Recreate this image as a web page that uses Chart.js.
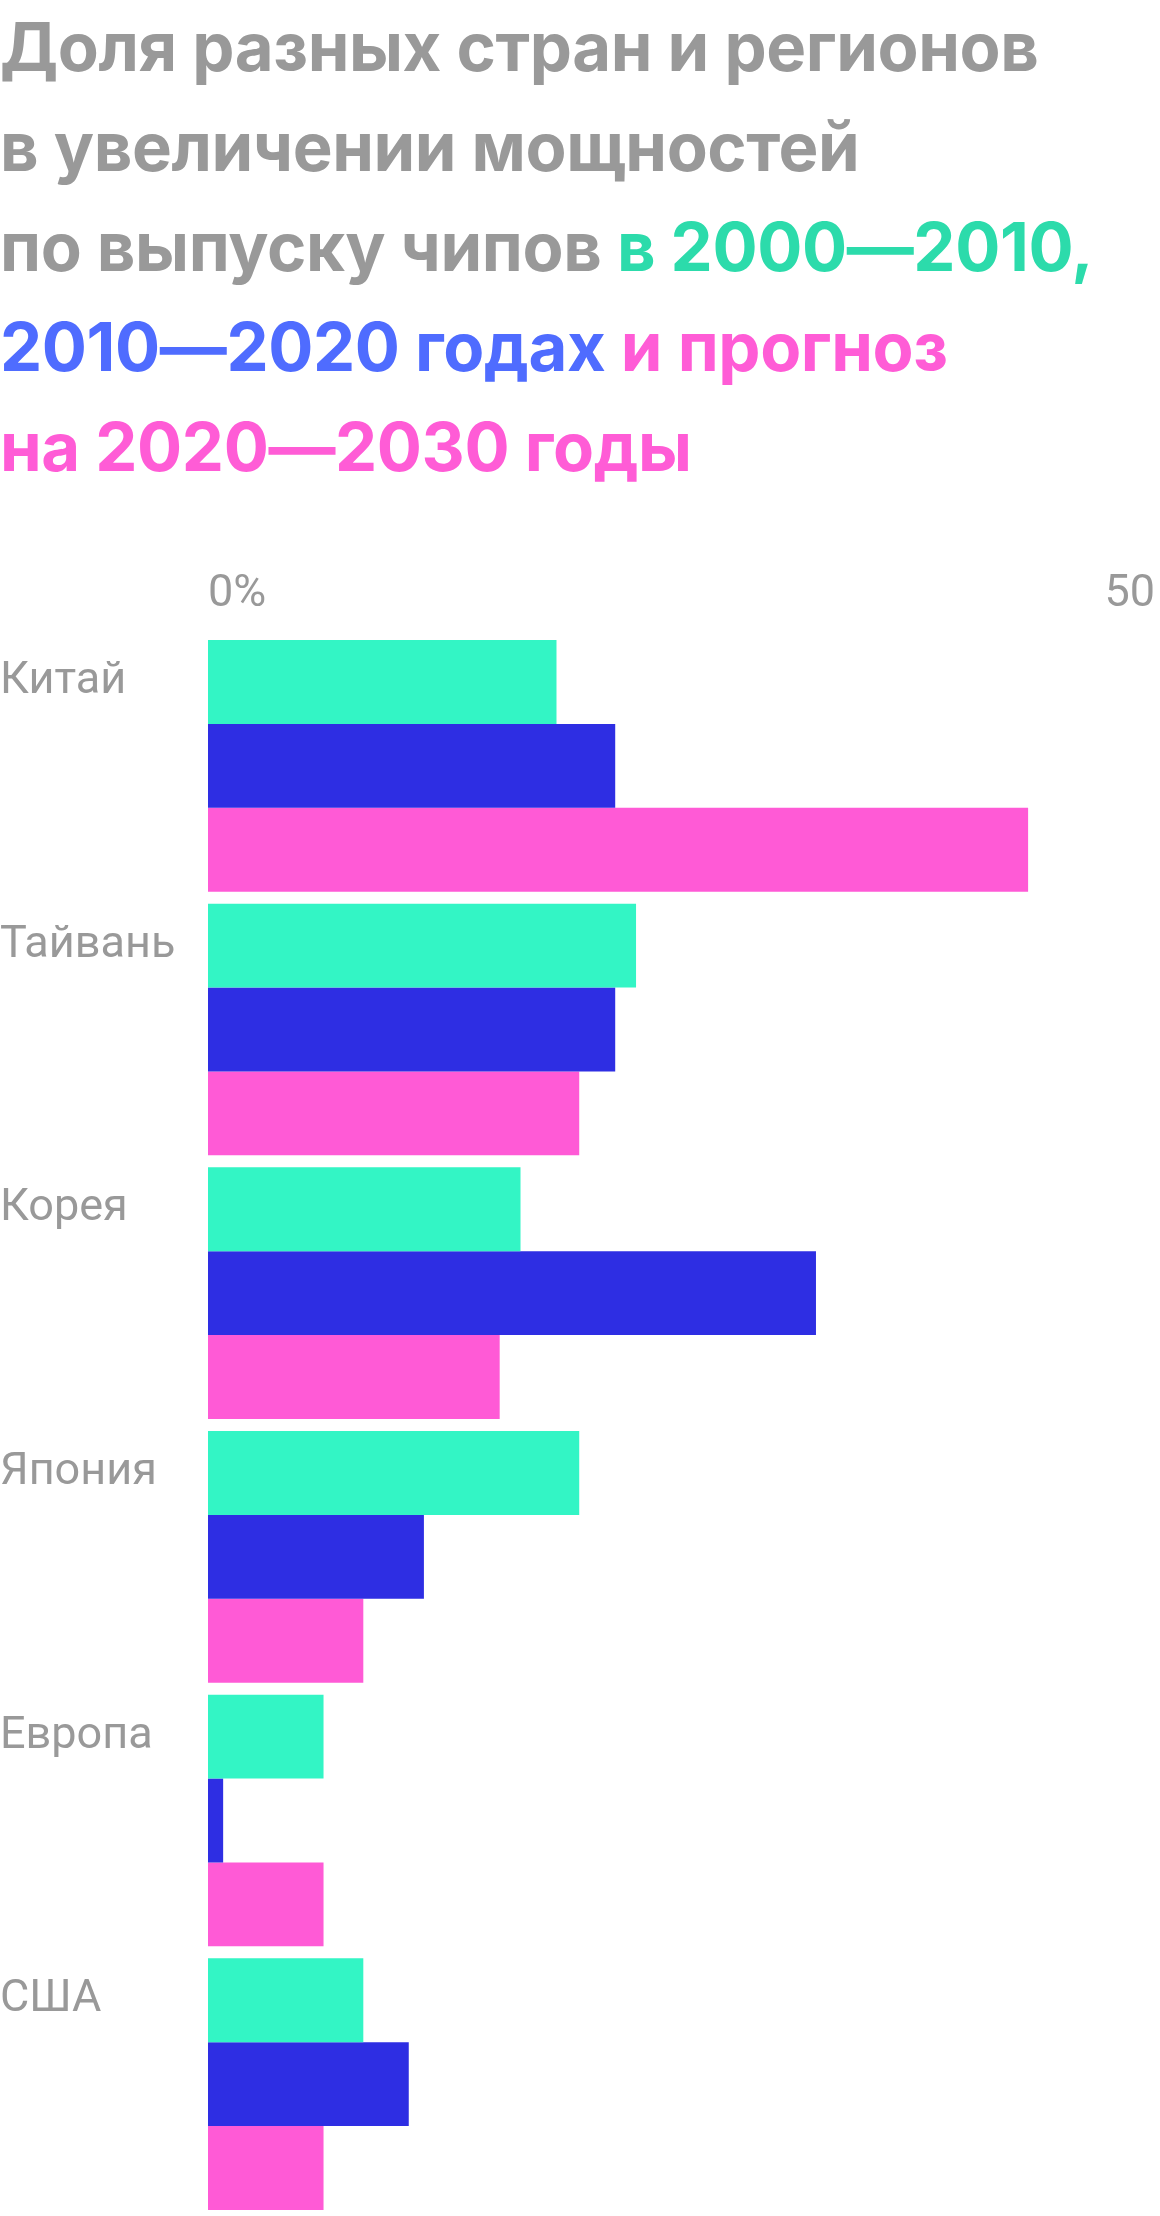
<!DOCTYPE html>
<html lang="ru">
<head>
<meta charset="utf-8">
<script src="https://cdn.jsdelivr.net/npm/chart.js@4"></script>
<style>
  html, body { margin: 0; padding: 0; background: #fff; }
  body { width: 1160px; height: 2216px; position: relative; overflow: hidden; }
  .title {
    position: absolute; left: 0; top: -3px; width: 1160px;
    font-family: Inter, "Noto Sans", sans-serif; font-weight: 700;
    font-size: 67px; line-height: 100px; color: #999999; letter-spacing: -0.4px;
  }
  .t1 { color: #2cdbab; }
  .t2 { color: #4f6cff; }
  .t3 { color: #ff5cd6; }
  .wrap { position: absolute; left: 0; top: 560px; width: 1160px; height: 1656px; }
</style>
</head>
<body>
<div class="title">
  Доля разных стран и регионов<br>
  в увеличении мощностей<br>
  по выпуску чипов <span class="t1">в 2000—2010,</span><br>
  <span class="t2">2010—2020 годах</span> <span class="t3">и прогноз</span><br>
  <span class="t3">на 2020—2030 годы</span>
</div>
<div class="wrap"><canvas id="chartChips"></canvas></div>
<script>
const regions   = ['Китай', 'Тайвань', 'Корея', 'Япония', 'Европа', 'США'];
const share0010 = [18.4, 22.6, 16.5, 19.6, 6.1, 8.2];
const share1020 = [21.5, 21.5, 32.1, 11.4, 0.8, 10.6];
const share2030 = [43.3, 19.6, 15.4, 8.2, 6.1, 6.1];
const axisTicks = [0, 50];

const labelFont = { family: 'Roboto, "Noto Sans", sans-serif', size: 45, weight: '400' };
const grey = '#999999';

const bar = (label, data, color) => ({
  label, data,
  backgroundColor: color,
  borderWidth: 0,
  barPercentage: 1,
  categoryPercentage: 252 / 264,
});

new Chart(document.getElementById('chartChips'), {
  type: 'bar',
  data: {
    labels: regions,
    datasets: [
      bar('2000—2010', share0010, '#33f5c5'),
      bar('2010—2020', share1020, '#2e2ee3'),
      bar('2020—2030', share2030, '#ff5ad6'),
    ],
  },
  options: {
    indexAxis: 'y',
    responsive: true,
    maintainAspectRatio: false,
    animation: false,
    layout: { padding: { left: 0, right: 5, top: 0, bottom: 0 } },
    plugins: {
      legend: { display: false },
      tooltip: { enabled: false },
    },
    scales: {
      x: {
        position: 'top',
        min: 0,
        max: 50,
        grid: { display: false },
        border: { display: false },
        afterBuildTicks: scale => { scale.ticks = axisTicks.map(v => ({ value: v })); },
        afterFit: scale => {
          scale.height = 74;
          scale.paddingLeft = 0;
          scale.paddingRight = 0;
        },
        ticks: {
          align: 'inner',
          padding: 4,
          color: grey,
          font: labelFont,
          callback: v => v === 0 ? '0%' : String(v),
        },
      },
      y: {
        grid: { display: false },
        border: { display: false },
        afterFit: scale => {
          scale.width = 208;
          scale.paddingTop = 0;
          scale.paddingBottom = 0;
        },
        ticks: {
          crossAlign: 'far',
          labelOffset: -84,
          color: grey,
          font: labelFont,
        },
      },
    },
  },
});
</script>
</body>
</html>
